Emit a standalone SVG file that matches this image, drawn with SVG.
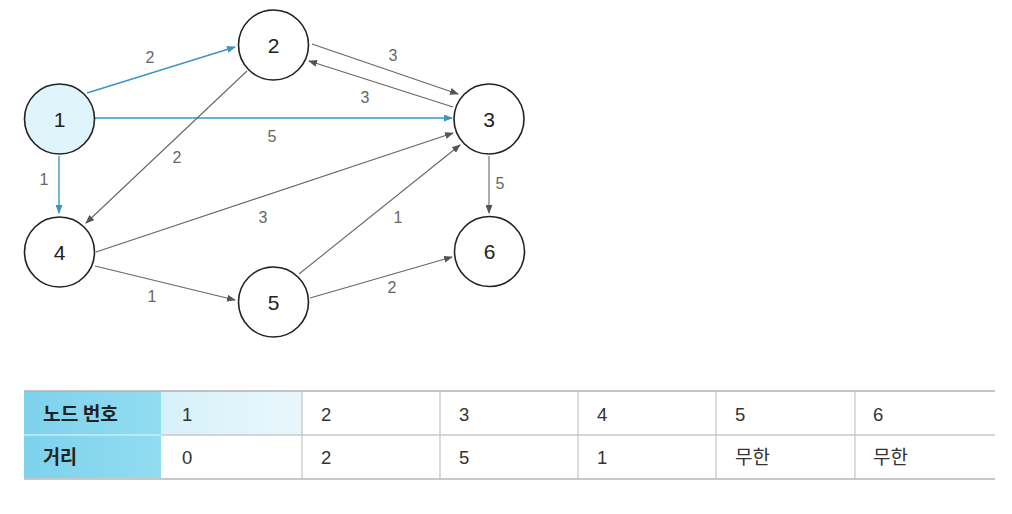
<svg xmlns="http://www.w3.org/2000/svg" width="1012" height="514" viewBox="0 0 1012 514">
<defs>
<marker id="ag" markerUnits="userSpaceOnUse" markerWidth="9" markerHeight="7" refX="8" refY="3.5" orient="auto"><path d="M0,0 L9,3.5 L0,7 z" fill="#555"/></marker>
<marker id="ab" markerUnits="userSpaceOnUse" markerWidth="9" markerHeight="7" refX="8" refY="3.5" orient="auto"><path d="M0,0 L9,3.5 L0,7 z" fill="#3a95c3"/></marker>
<linearGradient id="c1" x1="0" y1="0" x2="1" y2="0"><stop offset="0" stop-color="#d6f1fa"/><stop offset="1" stop-color="#e9f7fc"/></linearGradient>
<linearGradient id="hd" x1="0" y1="0" x2="1" y2="0"><stop offset="0" stop-color="#7dd2ec"/><stop offset="1" stop-color="#92dcf1"/></linearGradient>
<style>
.node circle{fill:#fff;stroke:#222;stroke-width:1.6}
.node text{font-family:"Liberation Sans",Arial,sans-serif;font-size:21px;fill:#222;text-anchor:middle}
.e{stroke:#666;stroke-width:1.1;marker-end:url(#ag);fill:none}
.b{stroke:#3a95c3;stroke-width:1.4;marker-end:url(#ab);fill:none}
.lbl{font-family:"Liberation Sans",Arial,sans-serif;font-size:16px;fill:#666;text-anchor:middle}
.t{font-family:"Liberation Sans","Noto Sans CJK KR",sans-serif;font-size:18.5px;fill:#333}
.h{font-family:"Noto Sans CJK KR",sans-serif;font-size:19px;font-weight:bold;fill:#222}
.k{font-family:"Noto Sans CJK KR",sans-serif;font-size:19px;fill:#333}
</style>
</defs>
<rect width="1012" height="514" fill="#fff"/>
<g id="connectors">
<line class="b" x1="87" y1="93" x2="235" y2="47"/>
<line class="b" x1="95" y1="118" x2="452" y2="118"/>
<line class="b" x1="59" y1="156" x2="59" y2="213"/>
<line class="e" x1="312" y1="44" x2="458" y2="94"/>
<line class="e" x1="453" y1="107" x2="309" y2="61"/>
<line class="e" x1="247" y1="71" x2="86" y2="223"/>
<line class="e" x1="96" y1="252" x2="453" y2="133"/>
<line class="e" x1="95" y1="266" x2="235" y2="300"/>
<line class="e" x1="299" y1="274" x2="460" y2="145"/>
<line class="e" x1="310" y1="298" x2="452" y2="257"/>
<line class="e" x1="489" y1="156" x2="489" y2="213"/>
<text class="lbl" x="150" y="63">2</text>
<text class="lbl" x="272" y="142">5</text>
<text class="lbl" x="177" y="163">2</text>
<text class="lbl" x="393" y="61">3</text>
<text class="lbl" x="365" y="103">3</text>
<text class="lbl" x="44" y="185">1</text>
<text class="lbl" x="152" y="302">1</text>
<text class="lbl" x="263" y="223">3</text>
<text class="lbl" x="398" y="223">1</text>
<text class="lbl" x="392" y="293">2</text>
<text class="lbl" x="500" y="189">5</text>
</g>
<g id="node1" class="node"><circle cx="59.5" cy="119" r="35" style="fill:#e0f4fb"/><text x="59.5" y="126.5">1</text></g>
<g id="node2" class="node"><circle cx="273.5" cy="45" r="35"/><text x="273.5" y="52.5">2</text></g>
<g id="node3" class="node"><circle cx="489" cy="119" r="35"/><text x="489" y="126.5">3</text></g>
<g id="node4" class="node"><circle cx="59.5" cy="252" r="35"/><text x="59.5" y="259.5">4</text></g>
<g id="node5" class="node"><circle cx="273.5" cy="302" r="35"/><text x="273.5" y="309.5">5</text></g>
<g id="node6" class="node"><circle cx="489.5" cy="251.5" r="35"/><text x="489.5" y="259">6</text></g>
<g id="table">
<rect x="24" y="391" width="137" height="88" fill="url(#hd)"/>
<rect x="161" y="391" width="141" height="44" fill="url(#c1)"/>
<line x1="24" y1="435" x2="161" y2="435" stroke="#c8eef8" stroke-width="1.5"/>
<line x1="24" y1="391" x2="995" y2="391" stroke="#b0b0b0" stroke-width="1.5"/>
<line x1="161" y1="435" x2="995" y2="435" stroke="#c8c8c8" stroke-width="1.5"/>
<line x1="24" y1="479" x2="995" y2="479" stroke="#c8c8c8" stroke-width="2"/>
<g stroke="#c4c4c4" stroke-width="1.2">
<line x1="302" y1="391" x2="302" y2="479"/>
<line x1="440" y1="391" x2="440" y2="479"/>
<line x1="578" y1="391" x2="578" y2="479"/>
<line x1="716" y1="391" x2="716" y2="479"/>
<line x1="855" y1="391" x2="855" y2="479"/>
</g>
<text class="h" x="43" y="421" textLength="75" lengthAdjust="spacingAndGlyphs">노드 번호</text>
<text class="h" x="43" y="464" textLength="34" lengthAdjust="spacingAndGlyphs">거리</text>
<text class="t" x="182" y="421">1</text>
<text class="t" x="321" y="421">2</text>
<text class="t" x="459" y="421">3</text>
<text class="t" x="597" y="421">4</text>
<text class="t" x="735" y="421">5</text>
<text class="t" x="873" y="421">6</text>
<text class="t" x="182" y="464">0</text>
<text class="t" x="321" y="464">2</text>
<text class="t" x="459" y="464">5</text>
<text class="t" x="597" y="464">1</text>
<text class="k" x="735" y="464" textLength="35" lengthAdjust="spacingAndGlyphs">무한</text>
<text class="k" x="873" y="464" textLength="35" lengthAdjust="spacingAndGlyphs">무한</text>
</g>
</svg>
